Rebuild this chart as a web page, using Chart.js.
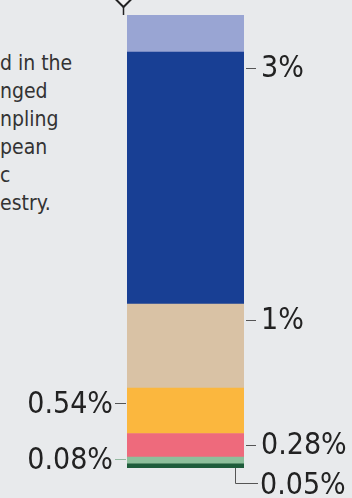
<!DOCTYPE html>
<html>
<head>
<meta charset="utf-8">
<script src="https://cdn.jsdelivr.net/npm/chart.js@4.4.1/dist/chart.umd.min.js"></script>
<style>
    html, body { margin: 0; padding: 0; background: #e8eaec; overflow: hidden; }
    #wrap { position: relative; width: 352px; height: 498px; }
    #note {
        position: absolute; left: 0; top: 49px;
        font: 21px/28px "DejaVu Sans Condensed", "DejaVu Sans", sans-serif;
        color: #333; white-space: pre;
    }
    canvas { position: absolute; left: 0; top: 0; }
</style>
</head>
<body>
<div id="wrap">
    <div id="note"></div>
    <canvas id="chart" width="352" height="498"></canvas>
</div>
<script>
// visible (cropped) fragment of the side note
const noteLines = ['d in the', 'nged', 'npling', 'pean', 'c', 'estry.'];

// stacked segments, bottom to top
const segmentNames = ['darkGreen', 'lightGreen', 'pink', 'orange', 'tan', 'darkBlue', 'lightBlue'];
const segmentValues = [0.05, 0.08, 0.28, 0.54, 1, 3, 0.44];
const segmentLabels = ['0.05%', '0.08%', '0.28%', '0.54%', '1%', '3%', ''];
const segmentColors = ['#1e5c3b', '#8dbf9b', '#ee6a7c', '#fbb73e', '#d9c2a5', '#183f94', '#99a5d3'];
const labelSide = ['bracket', 'left', 'right', 'left', 'right', 'right', 'none'];

document.getElementById('note').textContent = noteLines.join('\n');

const total = segmentValues.reduce((a, b) => a + b, 0);

const labelPlugin = {
    id: 'segLabels',
    afterDatasetsDraw(chart) {
        const ctx = chart.ctx;
        ctx.save();
        ctx.font = '30px "DejaVu Sans Condensed", "DejaVu Sans", sans-serif';
        ctx.textBaseline = 'middle';
        ctx.lineWidth = 1;

        chart.data.datasets.forEach((ds, i) => {
            const bar = chart.getDatasetMeta(i).data[0];
            const left = bar.x - bar.width / 2;
            const right = bar.x + bar.width / 2;
            const top = Math.min(bar.y, bar.base);
            const bottom = Math.max(bar.y, bar.base);
            const y = Math.round(Math.min(top + 16, (top + bottom) / 2)) + 0.5;
            const side = labelSide[i];
            const text = segmentLabels[i];

            ctx.strokeStyle = '#555';
            ctx.fillStyle = '#222';
            if (side === 'right') {
                ctx.beginPath();
                ctx.moveTo(right + 2, y);
                ctx.lineTo(right + 12, y);
                ctx.stroke();
                ctx.textAlign = 'left';
                ctx.fillText(text, right + 17, y + 1);
            } else if (side === 'left') {
                ctx.strokeStyle = i === 1 ? '#93b9a0' : '#555';
                ctx.beginPath();
                ctx.moveTo(left - 12, y - 1);
                ctx.lineTo(left - 1, y - 1);
                ctx.stroke();
                ctx.textAlign = 'right';
                ctx.fillText(text, left - 14, y + 1);
            } else if (side === 'bracket') {
                const bx = Math.round(right - 9) + 0.5;
                const by = Math.round(bottom + 15) + 0.5;
                ctx.beginPath();
                ctx.moveTo(bx, bottom);
                ctx.lineTo(bx, by);
                ctx.lineTo(right + 14, by);
                ctx.stroke();
                ctx.textAlign = 'left';
                ctx.fillText(text, right + 16, by + 3);
            }
        });

        // pointer marker above the bar
        const first = chart.getDatasetMeta(0).data[0];
        const px = Math.round(first.x - first.width / 2 - 4) + 0.5;
        const chartTop = chart.chartArea.top;
        ctx.strokeStyle = '#222';
        ctx.lineWidth = 2;
        ctx.fillStyle = '#f2f2f2';
        ctx.beginPath();
        ctx.moveTo(px - 7, 0);
        ctx.lineTo(px, 7);
        ctx.lineTo(px + 7, 0);
        ctx.lineTo(px, -7);
        ctx.closePath();
        ctx.fill();
        ctx.stroke();
        ctx.lineWidth = 1.5;
        ctx.beginPath();
        ctx.moveTo(px, 7);
        ctx.lineTo(px, chartTop);
        ctx.stroke();
        ctx.restore();
    }
};

new Chart(document.getElementById('chart'), {
    type: 'bar',
    data: {
        labels: ['share'],
        datasets: segmentNames.map((name, i) => ({
            label: name,
            data: [segmentValues[i]],
            backgroundColor: segmentColors[i],
            borderWidth: 0,
            barPercentage: 1,
            categoryPercentage: 1
        }))
    },
    options: {
        responsive: false,
        animation: false,
        events: [],
        layout: { padding: { left: 127, right: 108, top: 15, bottom: 30 } },
        plugins: { legend: { display: false }, tooltip: { enabled: false } },
        scales: {
            x: { display: false, stacked: true },
            y: { display: false, stacked: true, min: 0, max: total }
        }
    },
    plugins: [labelPlugin]
});
</script>
</body>
</html>
